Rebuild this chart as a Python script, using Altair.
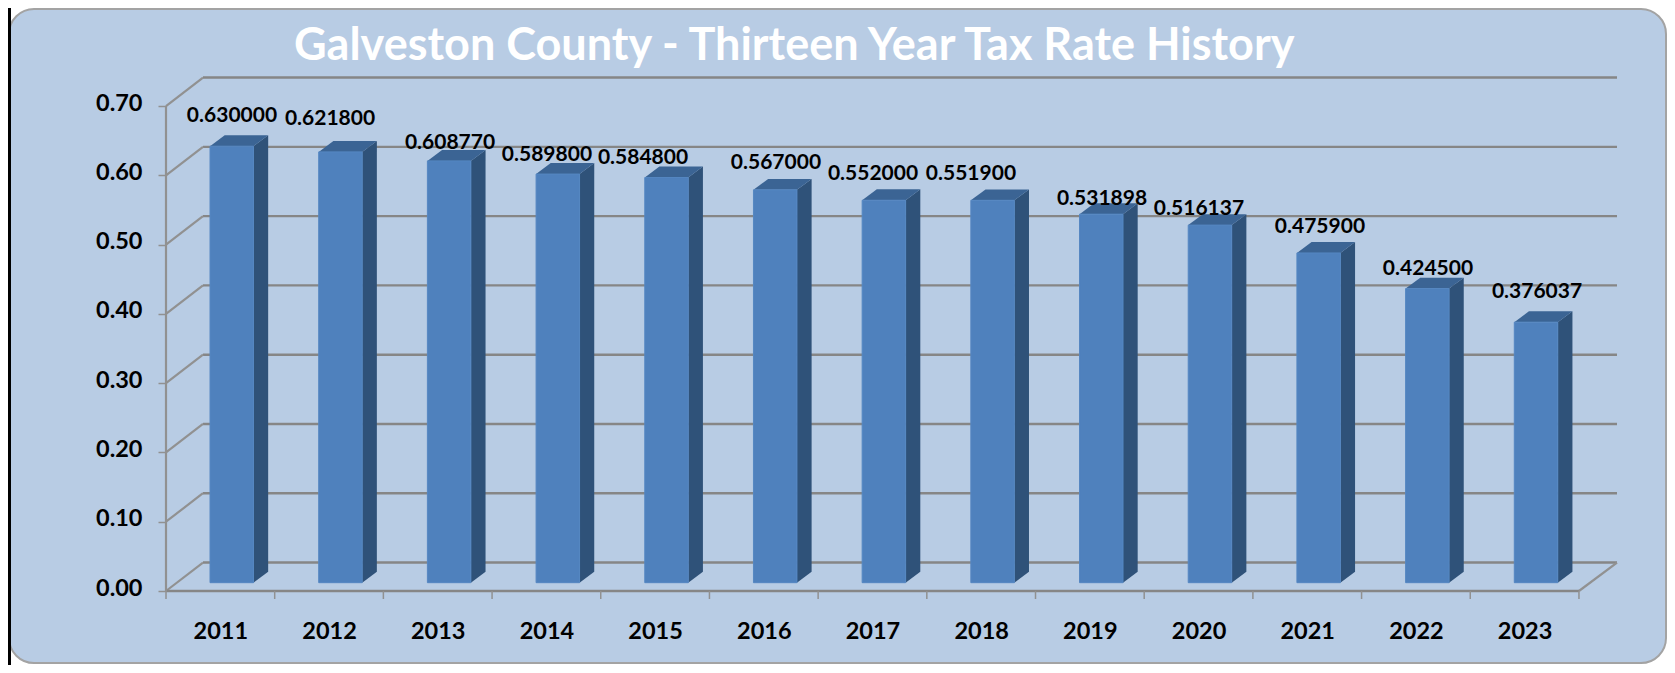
import altair as alt
import pandas as pd

years = list(range(2011, 2024))
rates = [0.630000, 0.621800, 0.608770, 0.589800, 0.584800, 0.567000, 0.552000,
         0.551900, 0.531898, 0.516137, 0.475900, 0.424500, 0.376037]
rate_text = ["0.630000", "0.621800", "0.608770", "0.589800", "0.584800", "0.567000", "0.552000",
             "0.551900", "0.531898", "0.516137", "0.475900", "0.424500", "0.376037"]
# where each hand-placed data label sits, read in axis units
label_year = [2011.107, 2012.009, 2013.113, 2014.005, 2014.889, 2016.112, 2017.005,
              2017.906, 2019.112, 2020.004, 2021.117, 2022.111, 2023.114]
label_level = [0.685, 0.681, 0.646, 0.629, 0.625, 0.618, 0.602,
               0.602, 0.566, 0.551, 0.525, 0.465, 0.431]
grid_levels = [0.0, 0.1, 0.2, 0.3, 0.4, 0.5, 0.6, 0.7]
title_text = "Galveston County - Thirteen Year Tax Rate History"

X_MIN, X_MAX = 2010.5, 2023.85
Y_MAX = 0.7419
WALL_DX, WALL_DY = 0.3404, 0.0411
BAR_L, BAR_R, BAR_BASE = -0.095, 0.305, 0.012
BAR_DX, BAR_DY = 0.135, 0.0158

FONT = "Lato"
GRID = "#868686"
EDGE = "#919191"
PANEL = "#B8CCE4"
FRONT = "#4F81BD"
SIDE = "#2F5279"
TOP = "#3B6494"

xs = alt.Scale(domain=[X_MIN, X_MAX], nice=False, zero=False)
ys = alt.Scale(domain=[0, Y_MAX], nice=False, zero=False)

x_axis = alt.Axis(
    values=years, format="d", domain=False, ticks=False, grid=False, zindex=1,
    labelFont=FONT, labelFontWeight="bold", labelFontSize=23.5, labelColor="#000000",
    labelPadding=40, labelBaseline="middle", labelFlush=False, labelOverlap=False)
y_axis = alt.Axis(
    values=grid_levels, format=".2f", domain=False, grid=False, tickSize=8, tickWidth=1.5,
    tickColor=EDGE, zindex=1, labelFont=FONT, labelFontWeight="bold", labelFontSize=23.5,
    labelColor="#000000", labelPadding=16, labelBaseline="middle", labelOffset=-3,
    labelOverlap=False)


def X(f):
    return alt.X(f, type="quantitative", scale=xs, axis=x_axis, title=None)


def Y(f):
    return alt.Y(f, type="quantitative", scale=ys, axis=y_axis, title=None)


one = pd.DataFrame({"a": [0]})

panel = alt.Chart(one).mark_rect(fill=PANEL, stroke="#A3A3A3", strokeWidth=2, cornerRadius=25).encode(
    x=alt.value(-157), x2=alt.value(1500), y=alt.value(-68), y2=alt.value(586))
left_line = alt.Chart(one).mark_rule(color="#000000", strokeWidth=3).encode(
    x=alt.value(-156.5), y=alt.value(-69), y2=alt.value(588))

grid_df = pd.DataFrame({
    "lvl": grid_levels,
    "lvl_back": [g + WALL_DY for g in grid_levels],
    "x0": [X_MIN] * len(grid_levels),
    "x_back": [X_MIN + WALL_DX] * len(grid_levels),
    "x_end": [X_MAX] * len(grid_levels),
})
wall = alt.Chart(grid_df).mark_rule(color=GRID, strokeWidth=2.4).encode(
    x=X("x_back"), x2="x_end", y=Y("lvl_back"))
diag = alt.Chart(grid_df).mark_rule(color=EDGE, strokeWidth=2.2).encode(
    x=X("x0"), x2="x_back", y=Y("lvl"), y2="lvl_back")

floor_df = pd.DataFrame({"x0": [years[-1] + 0.5], "x1": [X_MAX], "y0": [0.0], "y1": [WALL_DY]})
floor_diag = alt.Chart(floor_df).mark_rule(color=EDGE, strokeWidth=2.2).encode(
    x=X("x0"), x2="x1", y=Y("y0"), y2="y1")

axis_df = pd.DataFrame({"x0": [X_MIN], "x1": [years[-1] + 0.5], "y0": [0.0], "y1": [grid_levels[-1]]})
x_line = alt.Chart(axis_df).mark_rule(color=GRID, strokeWidth=2.4).encode(
    x=X("x0"), x2="x1", y=Y("y0"))
y_line = alt.Chart(axis_df).mark_rule(color=EDGE, strokeWidth=2.2).encode(
    x=X("x0"), y=Y("y0"), y2="y1")

tick_df = pd.DataFrame({"b": [y - 0.5 for y in years] + [years[-1] + 0.5]})
x_ticks = alt.Chart(tick_df).mark_rule(color=EDGE, strokeWidth=1.5).encode(
    x=X("b"), y=alt.value(514), y2=alt.value(522))

front_df = pd.DataFrame({
    "x0": [y + BAR_L for y in years],
    "x1": [y + BAR_R for y in years],
    "y0": [BAR_BASE] * len(years),
    "y1": [r + BAR_BASE for r in rates],
})
front = alt.Chart(front_df).mark_rect(fill=FRONT, stroke="#5587C2", strokeWidth=1).encode(
    x=X("x0"), x2="x1", y=Y("y0"), y2="y1")

side_rows = []
top_rows = []
for y, r in zip(years, rates):
    t = r + BAR_BASE
    side_rows.append({"year": y, "x": y + BAR_R, "lo": BAR_BASE, "hi": t})
    side_rows.append({"year": y, "x": y + BAR_R + BAR_DX, "lo": BAR_BASE + BAR_DY, "hi": t + BAR_DY})
    top_rows.append({"year": y, "y": t, "l": y + BAR_L, "r": y + BAR_R})
    top_rows.append({"year": y, "y": t + BAR_DY, "l": y + BAR_L + BAR_DX, "r": y + BAR_R + BAR_DX})

side = alt.Chart(pd.DataFrame(side_rows)).mark_area(color=SIDE, opacity=1).encode(
    x=X("x"), y=Y("lo"), y2="hi", detail="year:N")
top = alt.Chart(pd.DataFrame(top_rows)).mark_area(color=TOP, opacity=1, orient="horizontal").encode(
    y=Y("y"), x=X("l"), x2="r", detail="year:N")

labels_df = pd.DataFrame({"x": label_year, "y": label_level, "t": rate_text})
labels = alt.Chart(labels_df).mark_text(
    font=FONT, fontWeight="bold", fontSize=21, color="#000000", align="center", baseline="middle"
).encode(x=X("x"), y=Y("y"), text="t:N")

chart = alt.layer(
    panel, left_line, wall, diag, floor_diag, x_line, y_line, x_ticks,
    side, top, front, labels,
).properties(
    width=1451,
    height=514,
    padding={"left": 158, "right": 50, "top": 69, "bottom": 74},
    autosize=alt.AutoSizeParams(type="none"),
    background="#FFFFFF",
    title=alt.TitleParams(
        title_text, anchor="start", frame="group", dx=128, offset=-98, baseline="alphabetic",
        zindex=1, font=FONT, fontWeight="bold", fontSize=45, color="#FFFFFF"),
).configure_view(stroke=None)

chart.save("out.html", embed_options={"renderer": "svg", "actions": False})
